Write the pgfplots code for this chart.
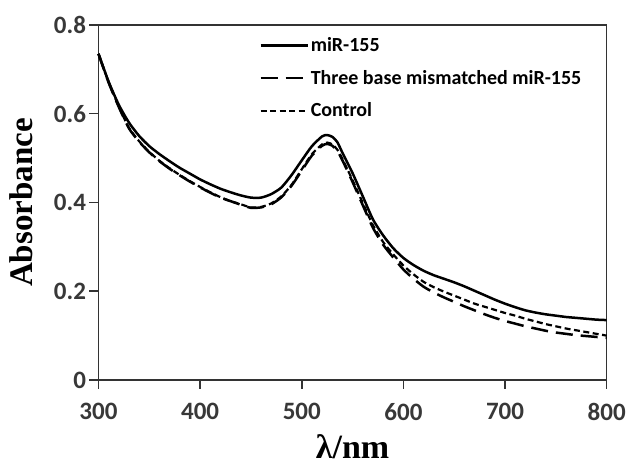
\documentclass[border=0pt]{standalone}
\usepackage{fontspec}
\setmainfont{Liberation Serif}
\newfontfamily\tickfont{Carlito}
\usepackage{pgfplots}
\usepackage{pgfplotstable}
\pgfplotsset{compat=1.18}
\pgfplotstableread{
x y
300 0.735
310 0.672
320 0.620
330 0.580
340 0.550
350 0.527
360 0.509
370 0.493
380 0.478
390 0.465
400 0.452
410 0.441
420 0.431
430 0.423
440 0.416
450 0.411
460 0.411
470 0.419
480 0.434
490 0.462
500 0.495
510 0.527
520 0.549
525 0.552
530 0.548
535 0.536
540 0.512
550 0.466
560 0.414
570 0.362
580 0.326
590 0.297
600 0.275
610 0.259
620 0.246
630 0.236
640 0.228
650 0.220
660 0.211
670 0.201
680 0.191
690 0.181
700 0.172
710 0.164
720 0.157
730 0.152
740 0.148
750 0.145
760 0.142
770 0.140
780 0.138
790 0.136
800 0.135
}\mir
\pgfplotstableread{
x y
300 0.735
310 0.670
320 0.615
330 0.567
340 0.537
350 0.513
360 0.493
370 0.476
380 0.461
390 0.447
400 0.434
410 0.422
420 0.411
430 0.403
440 0.395
450 0.388
460 0.389
470 0.396
480 0.412
490 0.438
500 0.472
510 0.506
520 0.528
525 0.532
530 0.528
535 0.516
540 0.495
550 0.446
560 0.394
570 0.343
580 0.305
590 0.276
600 0.249
610 0.228
620 0.210
630 0.197
640 0.186
650 0.176
660 0.166
670 0.157
680 0.148
690 0.140
700 0.133
710 0.127
720 0.121
730 0.116
740 0.111
750 0.107
760 0.104
770 0.101
780 0.099
790 0.097
800 0.095
}\mis
\pgfplotstableread{
x y
300 0.735
310 0.671
320 0.616
330 0.568
340 0.538
350 0.514
360 0.494
370 0.477
380 0.462
390 0.448
400 0.435
410 0.423
420 0.412
430 0.403
440 0.396
450 0.389
460 0.390
470 0.398
480 0.414
490 0.440
500 0.475
510 0.509
520 0.531
525 0.535
530 0.531
535 0.519
540 0.498
550 0.450
560 0.399
570 0.349
580 0.311
590 0.283
600 0.258
610 0.238
620 0.221
630 0.209
640 0.199
650 0.190
660 0.181
670 0.172
680 0.165
690 0.158
700 0.151
710 0.145
720 0.138
730 0.132
740 0.126
750 0.121
760 0.116
770 0.112
780 0.108
790 0.104
800 0.100
}\ctrl
\begin{document}
\begin{tikzpicture}
\path[use as bounding box] (0pt,0pt) rectangle (626pt,468pt);
\begin{axis}[
  at={(98.5pt,88pt)}, anchor=south west,
  scale only axis, width=508.2pt, height=355pt,
  xmin=300, xmax=800, ymin=0, ymax=0.8,
  xtick={300,400,500,600,700,800},
  xticklabels={300,400,500,600,700,800},
  ytick={0,0.2,0.4,0.6,0.8},
  yticklabels={0,0.2,0.4,0.6,0.8},
  tick align=outside,
  xtick pos=left, ytick pos=left,
  major tick length=9pt,
  axis line style={black!80, line width=1.5pt},
  every tick/.style={black!80, line width=1.5pt},
  tick label style={font=\fontsize{25}{29}\selectfont\tickfont\bfseries, text=black!78},
  xticklabel style={yshift=-11pt},
  xlabel={\textbf{λ/nm}},
  ylabel={\textbf{Absorbance}},
  xlabel style={font=\fontsize{34}{40}\selectfont, at={(axis description cs:0.5,-0.221)}, anchor=base},
  ylabel style={font=\fontsize{33}{38}\selectfont, at={(axis description cs:-0.129,0.5)}, anchor=base, rotate=0},
  legend style={draw=none, fill=none, at={(axis description cs:0.316,0.97)}, anchor=north west,
    font=\fontsize{20}{24}\selectfont\tickfont\bfseries, row sep=13pt, inner sep=0pt,
    /tikz/every even column/.append style={column sep=5pt}},
  legend cell align=left,
  legend image code/.code={\draw[#1] (0pt,0pt) -- (47pt,0pt);},
  clip=false,
]
\addplot[black, line width=2.5pt, smooth, tension=0.4] table {\mir};
\addlegendentry{miR-155}
\addplot[black, line width=2.5pt, smooth, tension=0.4, dash pattern=on 17pt off 8pt] table {\mis};
\addlegendentry{Three base mismatched miR-155}
\addplot[black, line width=2.2pt, smooth, tension=0.4, dash pattern=on 6pt off 3.5pt] table {\ctrl};
\addlegendentry{Control}
\end{axis}
\end{tikzpicture}
\end{document}
